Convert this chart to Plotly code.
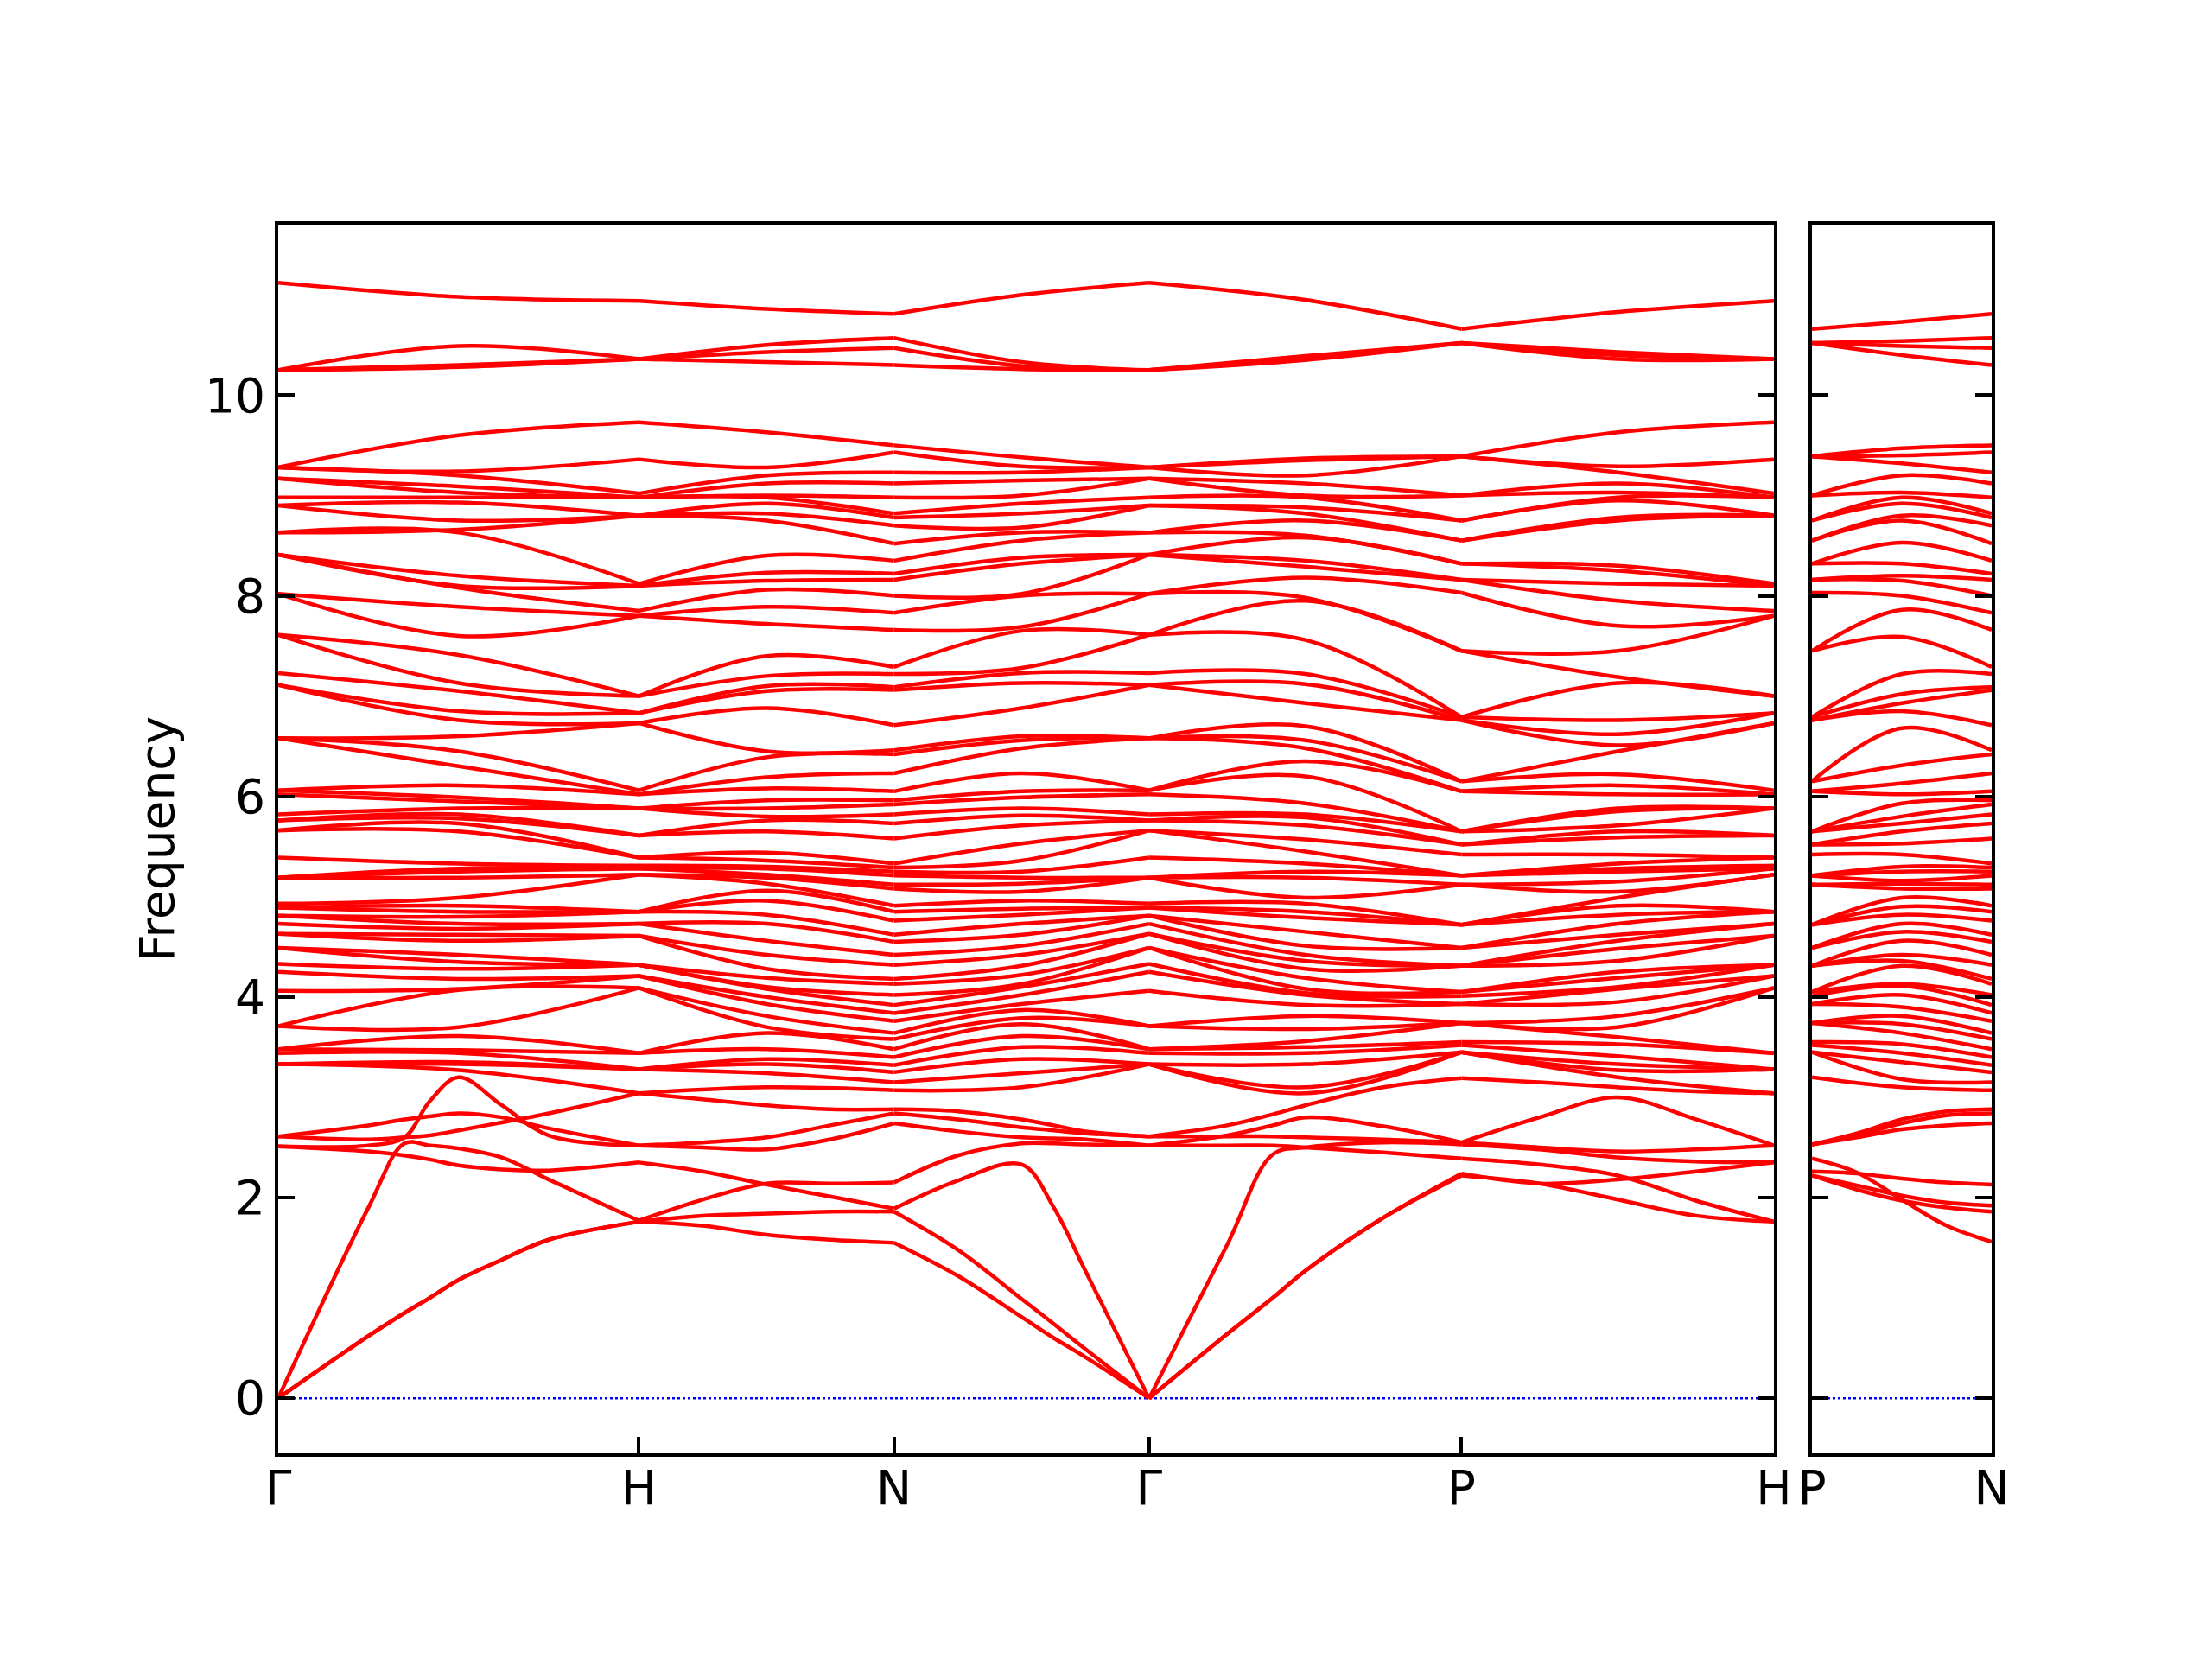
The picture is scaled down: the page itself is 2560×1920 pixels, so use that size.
import plotly.graph_objects as go

# ---- k-path (bcc, units of 2pi/a): Γ-H-N-Γ-P-H | P-N ----
k_left = [0.0, 0.5, 1.0, 1.35355, 1.70711, 2.06066, 2.41421, 2.84722, 3.28024, 3.71326, 4.14627]
k_right = [0.0, 0.25, 0.5]
tick_left_pos = [0.0, 1.0, 1.70711, 2.41421, 3.28024, 4.14627]
tick_left_text = ["Γ", "H", "N", "Γ", "P", "H"]
tick_right_pos = [0.0, 0.5]
tick_right_text = ["P", "N"]
y_ticks = [0, 2, 4, 6, 8, 10]

# ---- optical bands: frequencies (sorted) at each sampled k-point ----
freq_G = [3.33, 3.33, 3.33, 3.44, 3.48, 3.48, 3.71, 3.71, 4.06, 4.25, 4.33, 4.49, 4.49, 4.63, 4.63,
          4.73, 4.81, 4.81, 4.89, 4.89, 4.93, 5.19, 5.19, 5.19, 5.39, 5.66, 5.66, 5.76, 5.76, 5.82,
          6.02, 6.06, 6.06, 6.58, 6.58, 6.58, 7.11, 7.11, 7.23, 7.61, 7.61, 8.02, 8.02, 8.41, 8.41,
          8.41, 8.63, 8.63, 8.90, 8.90, 8.98, 9.17, 9.17, 9.28, 9.28, 9.28, 10.25, 10.25, 10.25, 11.12]
freq_GH_mid = [3.27, 3.33, 3.35, 3.44, 3.47, 3.61, 3.70, 4.07, 4.08, 4.18, 4.28, 4.35, 4.42, 4.56, 4.62,
               4.68, 4.73, 4.80, 4.85, 4.91, 4.99, 5.19, 5.25, 5.28, 5.33, 5.65, 5.73, 5.78, 5.82, 5.88,
               5.95, 5.99, 6.11, 6.30, 6.45, 6.60, 6.76, 6.85, 7.05, 7.13, 7.41, 7.60, 7.89, 8.08, 8.10,
               8.20, 8.63, 8.66, 8.75, 8.93, 8.98, 9.03, 9.09, 9.20, 9.24, 9.60, 10.28, 10.30, 10.49, 10.98]
freq_H = [3.04, 3.28, 3.28, 3.28, 3.44, 3.44, 4.09, 4.09, 4.21, 4.21, 4.32, 4.32, 4.32, 4.61, 4.61,
          4.73, 4.73, 4.85, 4.85, 4.85, 5.22, 5.22, 5.28, 5.28, 5.31, 5.39, 5.39, 5.61, 5.61, 5.88,
          5.88, 5.88, 6.02, 6.02, 6.06, 6.73, 6.73, 6.83, 6.83, 7.00, 7.00, 7.80, 7.80, 7.85, 8.10,
          8.10, 8.12, 8.80, 8.80, 8.80, 8.98, 8.98, 8.98, 9.02, 9.36, 9.73, 10.36, 10.36, 10.36, 10.94]
freq_HN_mid = [3.10, 3.24, 3.33, 3.38, 3.48, 3.64, 3.70, 3.81, 3.93, 4.00, 4.08, 4.10, 4.19, 4.28, 4.42,
               4.56, 4.73, 4.82, 4.96, 5.06, 5.13, 5.19, 5.22, 5.28, 5.30, 5.36, 5.44, 5.65, 5.76, 5.80,
               5.88, 5.96, 6.08, 6.19, 6.39, 6.45, 6.88, 7.05, 7.10, 7.20, 7.40, 7.72, 7.89, 8.06, 8.15,
               8.23, 8.40, 8.75, 8.82, 8.92, 8.98, 9.00, 9.12, 9.20, 9.28, 9.63, 10.33, 10.43, 10.50, 10.86]
freq_N = [3.07, 3.15, 3.25, 3.32, 3.40, 3.48, 3.58, 3.64, 3.76, 3.84, 3.92, 4.02, 4.13, 4.18, 4.32,
          4.42, 4.55, 4.62, 4.76, 4.85, 4.91, 5.08, 5.12, 5.21, 5.25, 5.29, 5.33, 5.58, 5.73, 5.82,
          5.92, 5.96, 6.05, 6.23, 6.42, 6.46, 6.71, 7.06, 7.09, 7.22, 7.29, 7.66, 7.83, 8.00, 8.16,
          8.22, 8.35, 8.52, 8.70, 8.78, 8.82, 8.98, 9.12, 9.23, 9.43, 9.50, 10.30, 10.47, 10.57, 10.81]
freq_NG_mid = [3.10, 3.24, 3.38, 3.50, 3.61, 3.73, 3.79, 3.87, 3.93, 4.02, 4.10, 4.13, 4.22, 4.31, 4.42,
               4.51, 4.62, 4.73, 4.82, 4.88, 4.96, 5.05, 5.13, 5.19, 5.25, 5.36, 5.53, 5.71, 5.81, 5.88,
               5.99, 6.05, 6.23, 6.48, 6.56, 6.60, 6.88, 7.13, 7.23, 7.28, 7.65, 7.69, 8.00, 8.02, 8.32,
               8.38, 8.55, 8.63, 8.68, 8.82, 8.92, 9.00, 9.15, 9.23, 9.29, 9.38, 10.26, 10.29, 10.33, 11.00]
freq_GP_mid = [3.04, 3.10, 3.33, 3.44, 3.50, 3.56, 3.68, 3.81, 3.92, 4.02, 4.04, 4.08, 4.19, 4.28, 4.36,
               4.42, 4.51, 4.65, 4.79, 4.85, 4.93, 4.99, 5.19, 5.25, 5.33, 5.45, 5.57, 5.71, 5.79, 5.82,
               5.93, 6.20, 6.35, 6.48, 6.56, 6.70, 6.93, 7.12, 7.22, 7.56, 7.95, 7.98, 8.18, 8.29, 8.35,
               8.58, 8.60, 8.75, 8.82, 8.88, 8.98, 9.00, 9.12, 9.20, 9.35, 9.37, 10.35, 10.37, 10.39, 10.95]
freq_P = [3.45, 3.45, 3.45, 3.52, 3.55, 3.74, 3.74, 3.74, 3.93, 3.93, 4.01, 4.05, 4.05, 4.31, 4.31,
          4.31, 4.49, 4.49, 4.72, 4.72, 4.72, 5.12, 5.12, 5.21, 5.21, 5.21, 5.42, 5.52, 5.52, 5.65,
          5.65, 5.65, 6.05, 6.05, 6.15, 6.15, 6.76, 6.76, 6.79, 6.79, 7.45, 7.45, 8.03, 8.16, 8.16,
          8.32, 8.32, 8.55, 8.55, 8.75, 8.75, 9.00, 9.00, 9.39, 9.39, 9.39, 10.52, 10.52, 10.52, 10.66]
freq_PH_mid = [3.20, 3.27, 3.33, 3.41, 3.53, 3.60, 3.70, 3.81, 3.95, 4.08, 4.10, 4.19, 4.25, 4.36, 4.48,
               4.56, 4.62, 4.73, 4.82, 4.91, 4.99, 5.05, 5.15, 5.25, 5.28, 5.33, 5.42, 5.59, 5.65, 5.71,
               5.85, 5.88, 6.02, 6.11, 6.22, 6.45, 6.51, 6.62, 6.76, 7.13, 7.19, 7.45, 7.70, 7.95, 8.12,
               8.25, 8.30, 8.75, 8.78, 8.95, 8.98, 9.03, 9.12, 9.23, 9.29, 9.63, 10.36, 10.40, 10.43, 10.83]
freq_P_right = [3.20, 3.45, 3.45, 3.52, 3.55, 3.74, 3.74, 3.74, 3.93, 3.93, 4.01, 4.05, 4.05, 4.31, 4.31,
                4.31, 4.49, 4.49, 4.72, 4.72, 4.72, 5.12, 5.12, 5.21, 5.21, 5.21, 5.42, 5.52, 5.52, 5.65,
                5.65, 5.65, 6.05, 6.05, 6.15, 6.15, 6.76, 6.76, 6.79, 6.79, 7.45, 7.45, 8.03, 8.16, 8.16,
                8.32, 8.32, 8.55, 8.55, 8.75, 8.75, 9.00, 9.00, 9.39, 9.39, 9.39, 10.52, 10.52, 10.52, 10.66]
freq_PN_mid = [3.10, 3.18, 3.35, 3.44, 3.53, 3.64, 3.73, 3.81, 3.90, 4.02, 4.11, 4.13, 4.31, 4.36, 4.42,
               4.56, 4.65, 4.73, 4.82, 4.90, 4.99, 5.08, 5.13, 5.16, 5.25, 5.30, 5.42, 5.53, 5.65, 5.73,
               5.80, 5.93, 6.02, 6.13, 6.31, 6.68, 6.85, 6.93, 7.02, 7.22, 7.59, 7.86, 8.00, 8.15, 8.20,
               8.32, 8.53, 8.75, 8.80, 8.92, 8.98, 9.03, 9.20, 9.32, 9.40, 9.47, 10.40, 10.49, 10.54, 10.73]

# ---- low-lying (acoustic and lowest optical) bands on a finer k grid ----
k_low = [0.0, 0.25, 0.35, 0.42, 0.5, 0.62, 0.75, 1.0,
         1.17678, 1.35355, 1.53033, 1.70711,
         1.88388, 2.06066, 2.15, 2.23744, 2.41421,
         2.63072, 2.757, 2.84722, 3.06373, 3.28024,
         3.49675, 3.71326, 3.92976, 4.14627]
low_1 = [0, 0.62, 0.85, 1.00, 1.18, 1.38, 1.58, 1.76, 1.72, 1.63, 1.58, 1.55, 1.22, 0.81, 0.60, 0.41, 0,
         0.64, 1.00, 1.27, 1.80, 2.22, 2.14, 1.98, 1.82, 1.76]
low_2 = [0, 0.62, 0.85, 1.00, 1.18, 1.38, 1.58, 1.76, 1.82, 1.84, 1.86, 1.86, 1.48, 0.99, 0.74, 0.49, 0,
         0.64, 1.00, 1.27, 1.80, 2.24, 2.14, 2.18, 2.26, 2.35]
low_3 = [0, 1.90, 2.54, 2.52, 2.49, 2.40, 2.18, 1.77, 1.98, 2.14, 2.14, 2.15, 2.42, 2.54, 2.54, 2.53, 2.52,
         2.52, 2.52, 2.50, 2.45, 2.39, 2.33, 2.22, 1.97, 1.76]
low_4 = [2.51, 2.52, 2.60, 2.96, 3.20, 2.92, 2.62, 2.52, 2.50, 2.48, 2.58, 2.74, 2.66, 2.60, 2.59, 2.58, 2.52,
         2.62, 2.72, 2.80, 2.71, 2.55, 2.80, 3.00, 2.78, 2.52]
low_5 = [2.61, 2.72, 2.78, 2.81, 2.84, 2.80, 2.69, 2.52, 2.55, 2.60, 2.72, 2.84, 2.78, 2.70, 2.67, 2.64, 2.61,
         2.61, 2.61, 2.60, 2.58, 2.55, 2.50, 2.46, 2.48, 2.52]
low_6 = [2.61, 2.58, 2.60, 2.62, 2.67, 2.75, 2.84, 3.04, 2.98, 2.92, 2.88, 2.88, 2.86, 2.78, 2.72, 2.66, 2.61,
         2.72, 2.83, 2.92, 3.10, 3.19, 3.15, 3.10, 3.06, 3.04]
low_7 = [2.51, 2.46, 2.42, 2.38, 2.32, 2.28, 2.27, 2.35, 2.26, 2.13, 2.01, 1.89, 2.17, 2.33, 1.90, 1.27, 0,
         1.53, 2.43, 2.50, 2.55, 2.53, 2.48, 2.40, 2.36, 2.35]

k_low_right = [0.0, 0.125, 0.25, 0.375, 0.5]
low_right_1 = [2.22, 2.12, 2.02, 1.95, 1.92]
low_right_2 = [2.22, 2.08, 1.97, 1.90, 1.86]
low_right_3 = [2.39, 2.25, 1.98, 1.72, 1.56]
low_right_4 = [2.53, 2.62, 2.74, 2.82, 2.84]
low_right_5 = [2.53, 2.64, 2.78, 2.86, 2.88]
low_right_6 = [2.26, 2.24, 2.19, 2.15, 2.13]
low_right_7 = [2.53, 2.60, 2.68, 2.72, 2.74]

# ---------------------------------------------------------------
left_columns = [freq_G, freq_GH_mid, freq_H, freq_HN_mid, freq_N, freq_NG_mid,
                freq_G, freq_GP_mid, freq_P, freq_PH_mid, freq_H]
right_columns = [freq_P_right, freq_PN_mid, freq_N]
n_bands = len(freq_G)
for col in left_columns + right_columns:
    assert len(col) == n_bands, len(col)

coarse_segments = [(0, 2), (2, 4), (4, 6), (6, 8), (8, 10)]
low_segments = [(0, 7), (7, 11), (11, 16), (16, 21), (21, 25)]


def add_segments(xs, ys, kpts, vals, segments):
    for a, b in segments:
        xs.extend(kpts[a:b + 1])
        ys.extend(vals[a:b + 1])
        xs.append(None)
        ys.append(None)


RED = "#ff0000"
LW = 4.5

xl, yl = [], []
for i in range(n_bands):
    add_segments(xl, yl, k_left, [c[i] for c in left_columns], coarse_segments)
for band in [low_1, low_2, low_3, low_4, low_5, low_6, low_7]:
    assert len(band) == len(k_low), len(band)
    add_segments(xl, yl, k_low, band, low_segments)

xr, yr = [], []
for i in range(n_bands):
    add_segments(xr, yr, k_right, [c[i] for c in right_columns], [(0, 2)])
for band in [low_right_1, low_right_2, low_right_3, low_right_4, low_right_5, low_right_6, low_right_7]:
    add_segments(xr, yr, k_low_right, band, [(0, 4)])

fig = go.Figure()
# zero reference lines
fig.add_trace(go.Scatter(x=[k_left[0], k_left[-1]], y=[0, 0], mode="lines",
                         line=dict(color="#0000ff", width=2.5, dash="dot"),
                         hoverinfo="skip", showlegend=False, xaxis="x", yaxis="y"))
fig.add_trace(go.Scatter(x=[k_right[0], k_right[-1]], y=[0, 0], mode="lines",
                         line=dict(color="#0000ff", width=2.5, dash="dot"),
                         hoverinfo="skip", showlegend=False, xaxis="x2", yaxis="y2"))
fig.add_trace(go.Scatter(x=xl, y=yl, mode="lines", connectgaps=False,
                         line=dict(color=RED, width=LW, shape="spline", smoothing=1.0),
                         hoverinfo="skip", showlegend=False, xaxis="x", yaxis="y"))
fig.add_trace(go.Scatter(x=xr, y=yr, mode="lines", connectgaps=False,
                         line=dict(color=RED, width=LW, shape="spline", smoothing=1.0),
                         hoverinfo="skip", showlegend=False, xaxis="x2", yaxis="y2"))

FONT = "DejaVu Sans"
axis_common = dict(showline=True, linecolor="black", linewidth=4, mirror=True,
                   showgrid=False, zeroline=False, ticks="inside", ticklen=19,
                   tickwidth=4, tickcolor="black",
                   tickfont=dict(family=FONT, size=55, color="black"))

y_range = [-0.55, 11.70]
split_left = (2051 - 320) / (2303 - 320)
split_right = (2095 - 320) / (2303 - 320)

fig.update_layout(
    width=2560, height=1920,
    margin=dict(l=314, r=263, t=252, b=246),
    paper_bgcolor="white", plot_bgcolor="white",
    font=dict(family=FONT, size=55, color="black"),
    xaxis=dict(domain=[0, split_left], range=[k_left[0], k_left[-1]],
               tickmode="array", tickvals=tick_left_pos, ticktext=tick_left_text,
               anchor="y", ticklabelstandoff=-11, **axis_common),
    xaxis2=dict(domain=[split_right, 1], range=[k_right[0], k_right[-1]],
                tickmode="array", tickvals=tick_right_pos, ticktext=tick_right_text,
                anchor="y2", ticklabelstandoff=-11, **axis_common),
    yaxis=dict(range=y_range, tickmode="array", tickvals=y_ticks, anchor="x",
               title=dict(text="Frequency", font=dict(family=FONT, size=55, color="black"), standoff=19),
               **{**axis_common, "mirror": "ticks"}),
    yaxis2=dict(range=y_range, tickmode="array", tickvals=y_ticks, anchor="x2",
                matches="y", showticklabels=False,
                **{**axis_common, "mirror": "ticks"}),
)

fig.write_html("out.html")
